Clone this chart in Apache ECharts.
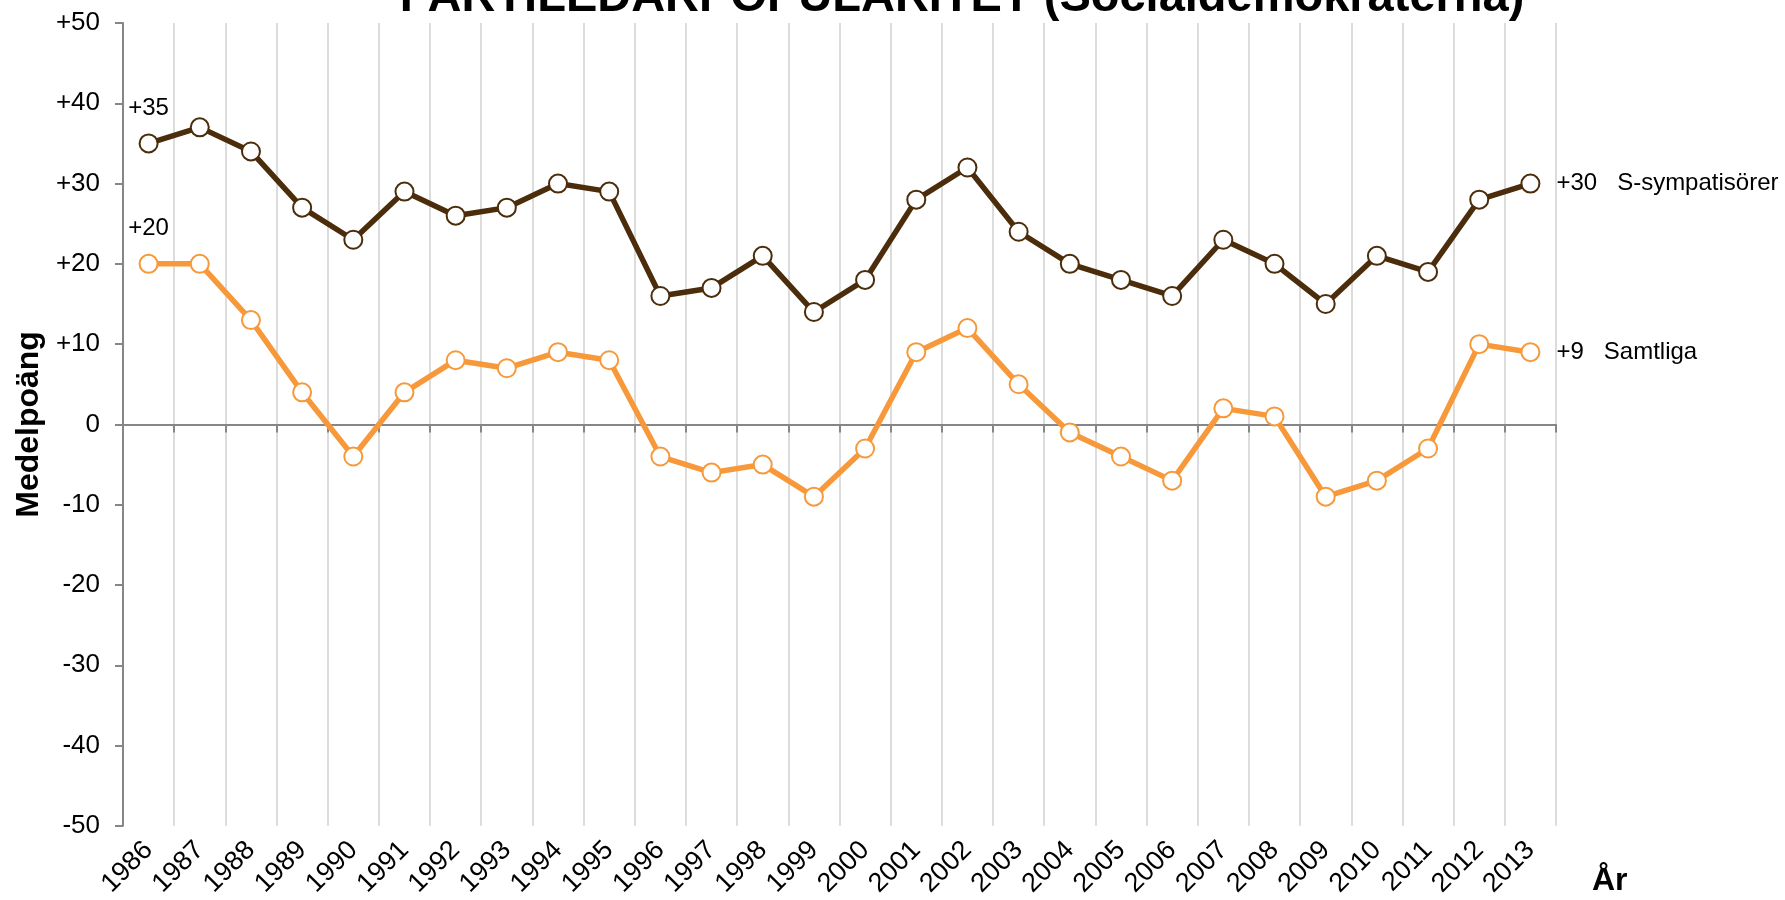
<!DOCTYPE html>
<html style="height: 100%">
<head>
  <meta charset="utf-8">
  <title>Partiledarpopularitet</title>
  <script src="https://cdn.jsdelivr.net/npm/echarts@6.0.0/dist/echarts.min.js"></script>
</head>
<body style="height: 100%; margin: 0; background: #fff">
<div id="container" style="width: 1785px; height: 900px"></div>
<script type="text/javascript">
  var years = ['1986', '1987', '1988', '1989', '1990', '1991', '1992', '1993', '1994', '1995',
    '1996', '1997', '1998', '1999', '2000', '2001', '2002', '2003', '2004', '2005',
    '2006', '2007', '2008', '2009', '2010', '2011', '2012', '2013'];
  var sympatisorer = [35, 37, 34, 27, 23, 29, 26, 27, 30, 29, 16, 17, 21, 14, 18, 28, 32, 24, 20, 18,
    16, 23, 20, 15, 21, 19, 28, 30];
  var samtliga = [20, 20, 13, 4, -4, 4, 8, 7, 9, 8, -4, -6, -5, -9, -3, 9, 12, 5, -1, -4,
    -7, 2, 1, -9, -7, -3, 10, 9];
  var seriesNames = ['S-sympatisörer', 'Samtliga'];
  var colors = ['#4b2c0b', '#f7993a'];

  var font = 'Liberation Sans, Arial, sans-serif';
  var axisGray = '#868686';

  function signed(v) {
    return v > 0 ? '+' + v : String(v);
  }

  // first point gets its value above, last point its value + series name to the right
  function withLabels(values, name) {
    return values.map(function (v, i) {
      if (i === 0) {
        return { value: v, label: { show: true, position: 'top', distance: 13, formatter: signed(v) } };
      }
      if (i === values.length - 1) {
        return { value: v, label: { show: true, position: 'right', distance: 16, formatter: signed(v) + '   ' + name } };
      }
      return v;
    });
  }

  var dom = document.getElementById('container');
  var myChart = echarts.init(dom);

  var option = {
    animation: false,
    textStyle: { fontFamily: font },
    graphic: [{
      type: 'text',
      x: 962,
      y: -2,
      style: {
        text: 'PARTILEDARPOPULARITET (Socialdemokraterna)',
        font: 'bold 47px ' + font,
        fill: '#000',
        align: 'center',
        verticalAlign: 'middle'
      }
    }],
    grid: { left: 123, right: 229, top: 23, bottom: 73 },
    xAxis: [
      {
        type: 'category',
        data: years,
        position: 'bottom',
        axisLine: { show: false, onZero: false },
        axisTick: { show: false },
        splitLine: { show: true, lineStyle: { color: '#dcdcdc', width: 2 } },
        axisLabel: { rotate: 45, margin: 20, fontSize: 27, color: '#000', interval: 0 },
        name: 'År',
        nameLocation: 'end',
        nameGap: 36,
        nameTextStyle: { fontSize: 32, fontWeight: 'bold', color: '#000', align: 'left', verticalAlign: 'top', padding: [39, 0, 0, 0] }
      },
      {
        type: 'category',
        data: years,
        position: 'top',
        axisLine: { show: true, onZero: true, lineStyle: { color: axisGray, width: 2 } },
        axisTick: { show: true, inside: true, length: 8, interval: 0, lineStyle: { color: axisGray, width: 2 } },
        axisLabel: { show: false },
        splitLine: { show: false }
      }
    ],
    yAxis: {
      type: 'value',
      min: -50,
      max: 50,
      interval: 10,
      name: 'Medelpoäng',
      nameLocation: 'middle',
      nameGap: 78,
      nameTextStyle: { fontSize: 32, fontWeight: 'bold', color: '#000' },
      axisLine: { show: true, lineStyle: { color: axisGray, width: 2 } },
      axisTick: { show: true, length: 8, lineStyle: { color: axisGray, width: 2 } },
      splitLine: { show: false },
      axisLabel: { fontSize: 26, color: '#000', margin: 23, formatter: signed }
    },
    series: [
      {
        name: seriesNames[0],
        type: 'line',
        xAxisIndex: 0,
        data: withLabels(sympatisorer, seriesNames[0]),
        symbol: 'circle',
        symbolSize: 18,
        showAllSymbol: true,
        lineStyle: { color: colors[0], width: 5.5 },
        itemStyle: { color: '#fff', borderColor: colors[0], borderWidth: 2 },
        label: { fontSize: 24, color: '#000' }
      },
      {
        name: seriesNames[1],
        type: 'line',
        xAxisIndex: 0,
        data: withLabels(samtliga, seriesNames[1]),
        symbol: 'circle',
        symbolSize: 18,
        showAllSymbol: true,
        lineStyle: { color: colors[1], width: 5.5 },
        itemStyle: { color: '#fff', borderColor: colors[1], borderWidth: 2 },
        label: { fontSize: 24, color: '#000' }
      }
    ]
  };

  myChart.setOption(option);
</script>
</body>
</html>
